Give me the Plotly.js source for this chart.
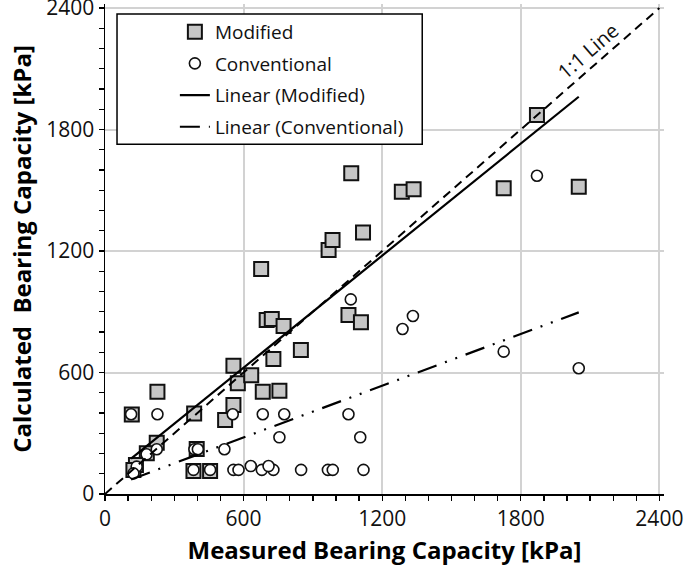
<!DOCTYPE html>
<html>
<head>
<meta charset="utf-8">
<script src="https://cdn.plot.ly/plotly-3.0.1.min.js"></script>
<style>html,body{margin:0;padding:0;background:#fff;}#chart{width:685px;height:577px;}</style>
</head>
<body>
<div id="chart"></div>
<script>
// Modified (squares)
const modX = [116, 227, 386, 520, 556, 556, 575, 633, 683, 755, 676, 700, 722, 773, 729, 848, 1054, 1108, 968, 985, 1117, 1066, 1285, 1336, 1726, 1870, 2051, 224, 181, 134, 123, 397, 383, 455];
const modY = [393, 505, 398, 365, 439, 634, 547, 586, 505, 510, 1111, 859, 864, 830, 667, 711, 884, 848, 1205, 1254, 1291, 1584, 1493, 1505, 1510, 1872, 1518, 253, 201, 143, 119, 222, 114, 114];
// Conventional (circles)
const convX = [113, 227, 553, 683, 776, 1054, 755, 1105, 517, 387, 402, 224, 180, 137, 123, 383, 455, 556, 578, 679, 729, 849, 965, 986, 1119, 631, 708, 1064, 1288, 1333, 1726, 2051, 1870];
const convY = [394, 394, 394, 394, 394, 394, 280, 280, 221, 221, 221, 221, 196, 135, 102, 119, 119, 119, 119, 119, 119, 119, 119, 119, 119, 138, 138, 961, 815, 879, 703, 621, 1572];
// Trend lines (end points)
const linModX = [113, 2051];
const linModY = [175, 1962];
const linConvX = [113, 2051];
const linConvY = [72, 897];
// 1:1 line
const oneX = [0, 2400];
const oneY = [0, 2400];
const tickVals = [0, 600, 1200, 1800, 2400];

const FONT = 'Open Sans, Noto Sans, sans-serif';

const traces = [
  {x: modX, y: modY, type: 'scatter', mode: 'markers', name: 'Modified', legendgroup: 'a',
   marker: {symbol: 'square', size: 14, color: '#c6c6c6', line: {color: '#111', width: 2}}},
  {x: convX, y: convY, type: 'scatter', mode: 'markers', name: 'Conventional', legendgroup: 'b',
   marker: {symbol: 'circle', size: 11, color: '#fff', line: {color: '#111', width: 1.6}}},
  {x: linModX, y: linModY, type: 'scatter', mode: 'lines', name: 'Linear (Modified)', legendgroup: 'c',
   line: {color: '#000', width: 2.2}},
  {x: linConvX, y: linConvY, type: 'scatter', mode: 'lines', name: 'Linear (Conventional)', legendgroup: 'd',
   line: {color: '#000', width: 2.2, dash: '20px,9px,2px,9px,2px,9px'}},
  {x: oneX, y: oneY, type: 'scatter', mode: 'lines', name: '1:1 Line', showlegend: false,
   line: {color: '#000', width: 2, dash: '9px,6px'}}
];

const axisCommon = {
  range: [0, 2420], tickvals: tickVals, ticktext: tickVals.map(String),
  showgrid: true, gridcolor: '#d2d2d2', gridwidth: 2,
  zeroline: false, showline: true, linecolor: '#000', linewidth: 1.5,
  ticks: 'outside', ticklen: 5, tickwidth: 1.3, tickcolor: '#000',
  minor: {dtick: 100, ticks: 'outside', ticklen: 5, tickwidth: 1.3, tickcolor: '#000', showgrid: false},
  tickfont: {family: FONT, size: 21, color: '#111'},
  ticklabeloverflow: 'allow',
  fixedrange: true
};

const layout = {
  width: 685, height: 577,
  margin: {l: 105, r: 21, t: 4, b: 83},
  paper_bgcolor: '#fff', plot_bgcolor: '#fff',
  font: {family: FONT, color: '#111'},
  xaxis: Object.assign({}, axisCommon, {
    title: {text: 'Measured Bearing Capacity [kPa]', font: {family: FONT, size: 24, weight: 700, color: '#000'}, standoff: 11}
  }),
  yaxis: Object.assign({}, axisCommon, {
    title: {text: 'Calculated\u00a0 Bearing Capacity [kPa]', font: {family: FONT, size: 24, weight: 700, color: '#000'}, standoff: 8}
  }),
  showlegend: true,
  legend: {
    x: 0.125, y: 0.982, xanchor: 'left', yanchor: 'top',
    bgcolor: 'rgba(0,0,0,0)', borderwidth: 0,
    font: {family: FONT, size: 19, color: '#111'},
    traceorder: 'grouped', tracegroupgap: 4
  },
  shapes: [
    {type: 'rect', xref: 'paper', yref: 'paper', x0: 0.0215, x1: 0.5675, y0: 0.714, y1: 0.9796,
     fillcolor: '#fff', line: {color: '#000', width: 1.5}, layer: 'above'}
  ],
  annotations: [
    {x: 2093, y: 2188, xref: 'x', yref: 'y', text: '1:1 Line', showarrow: false,
     textangle: -41, font: {family: FONT, size: 20, color: '#111'}}
  ]
};

Plotly.newPlot('chart', traces, layout, {displayModeBar: false, staticPlot: true});
</script>
</body>
</html>
